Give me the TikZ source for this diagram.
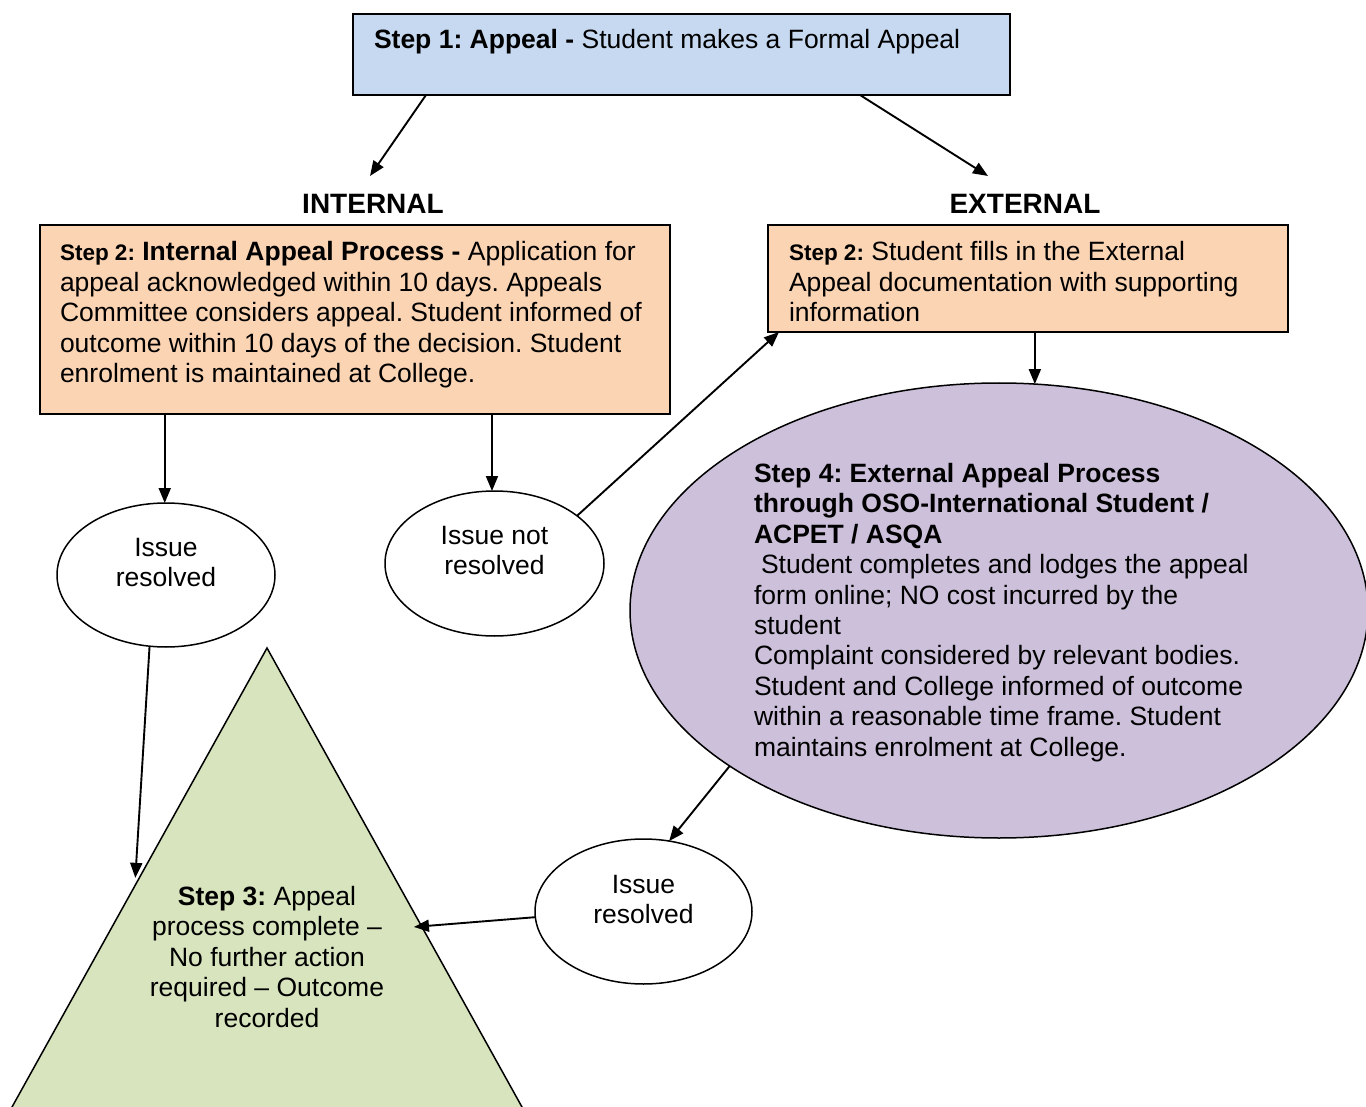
\documentclass[tikz,border=0pt]{standalone}
\usepackage{fontspec}
\setmainfont{Liberation Sans}
\usetikzlibrary{shapes.geometric,arrows.meta,calc}
\definecolor{cblue}{RGB}{198,217,241}
\definecolor{corange}{RGB}{251,212,180}
\definecolor{cpurple}{RGB}{204,192,218}
\definecolor{cgreen}{RGB}{215,228,189}
\newcommand\myfs{\fontsize{26.5}{30.5}\selectfont}
\newcommand\mysmallfs{\fontsize{22.5}{30.5}\selectfont}
\frenchspacing
\begin{document}
\begin{tikzpicture}[x=1pt,y=-1pt,
  boxst/.style={draw=black,line width=1.5pt,inner sep=0pt,outer sep=0pt},
  ellst/.style={ellipse,draw=black,line width=1.5pt,inner sep=0pt,outer sep=0pt},
  txt/.style={inner sep=0pt,outer sep=0pt,font=\myfs},
  lbl/.style={inner sep=0pt,anchor=base,font=\fontsize{28}{32}\selectfont\bfseries},
  arr/.style={line width=1.9pt,-{Triangle[length=15pt,width=12pt]}}]
\useasboundingbox (0,0) rectangle (1366,1107);
\fill[white] (0,0) rectangle (1366,1107);

% triangle (drawn first)
\coordinate (tA) at (267,648);
\coordinate (tL) at (4.8,1120);
\coordinate (tR) at (529.2,1120);
\draw[fill=cgreen,line width=1.5pt] (tA) -- (tR) -- (tL) -- cycle;
\node[txt,anchor=base] (t3) at (267,905) {\begin{tabular}[t]{@{}c@{}}\textbf{Step 3:} Appeal\\ process complete –\\ No further action\\ required – Outcome\\ recorded\end{tabular}};

% step 1
\node[boxst,fill=cblue,minimum width=657pt,minimum height=81pt] (s1) at (681.5,54.5) {};
\node[txt,anchor=base west] (s1t) at (374,49) {\textbf{Step 1: Appeal -} Student makes a Formal Appeal};

% labels
\node[lbl] (intl) at (373,214) {INTERNAL};
\node[lbl] (extl) at (1025,214) {EXTERNAL};

% internal box
\node[boxst,fill=corange,minimum width=630pt,minimum height=189pt] (ib) at (355,319.5) {};
\node[txt,anchor=base west] (ibt) at (60,261) {\begin{tabular}[t]{@{}l@{}}{\mysmallfs\bfseries Step 2:} \textbf{Internal Appeal Process -} Application for\\ appeal acknowledged within 10 days. Appeals\\ Committee considers appeal. Student informed of\\ outcome within 10 days of the decision. Student\\ enrolment is maintained at College.\end{tabular}};

% external box
\node[boxst,fill=corange,minimum width=520pt,minimum height=107pt] (eb) at (1028,278.5) {};
\node[txt,anchor=base west] (ebt) at (789,261) {\begin{tabular}[t]{@{}l@{}}{\mysmallfs\bfseries Step 2:} Student fills in the External\\ Appeal documentation with supporting\\ information\end{tabular}};

% big ellipse
\node[ellst,fill=cpurple,minimum width=738pt,minimum height=455pt] (ell) at (999,610.5) {};
\node[txt,anchor=base west] (ellt) at (754,482) {\begin{tabular}[t]{@{}l@{}}\textbf{Step 4: External Appeal Process}\\ \textbf{through OSO-International Student /}\\ \textbf{ACPET / ASQA}\\ \hspace{7pt}Student completes and lodges the appeal\\ form online; NO cost incurred by the\\ student\\ Complaint considered by relevant bodies.\\ Student and College informed of outcome\\ within a reasonable time frame. Student\\ maintains enrolment at College.\end{tabular}};

% small ellipses
\node[ellst,fill=white,minimum width=218pt,minimum height=144pt] (ir1) at (166,575) {};
\node[txt,anchor=base] (ir1t) at (166,556) {\begin{tabular}[t]{@{}c@{}}Issue\\ resolved\end{tabular}};
\node[ellst,fill=white,minimum width=219pt,minimum height=145pt] (inr) at (494.5,563.5) {};
\node[txt,anchor=base] (inrt) at (494.5,544) {\begin{tabular}[t]{@{}c@{}}Issue not\\ resolved\end{tabular}};
\node[ellst,fill=white,minimum width=217pt,minimum height=145pt] (ir3) at (643.5,911.5) {};
\node[txt,anchor=base] (ir3t) at (643.5,893) {\begin{tabular}[t]{@{}c@{}}Issue\\ resolved\end{tabular}};

% connectors
\draw[arr] ($(s1.south west)+(73,0)$) -- ($(intl.base)+(-3,-38)$);
\draw[arr] ($(s1.south west)+(507,0)$) -- ($(extl.base)+(-37,-38)$);
\draw[arr] (ir1.91 |- ib.south) -- (ir1.91);
\draw[arr] (inr.92 |- ib.south) -- (inr.92);
\draw[arr] (inr.30) -- ($(eb.south west)+(11,0)$);
\draw[arr] (ell.81 |- eb.south) -- (ell.81);
\draw[arr] (ell.210) -- (ir3.70);
\draw[arr] (ir3.183) -- ($(tA)!0.591!(tR)+(-8,0)$);
\draw[arr] (ir1.257) -- ($(tA)!0.487!(tL)+(-4,0)$);
\end{tikzpicture}
\end{document}
